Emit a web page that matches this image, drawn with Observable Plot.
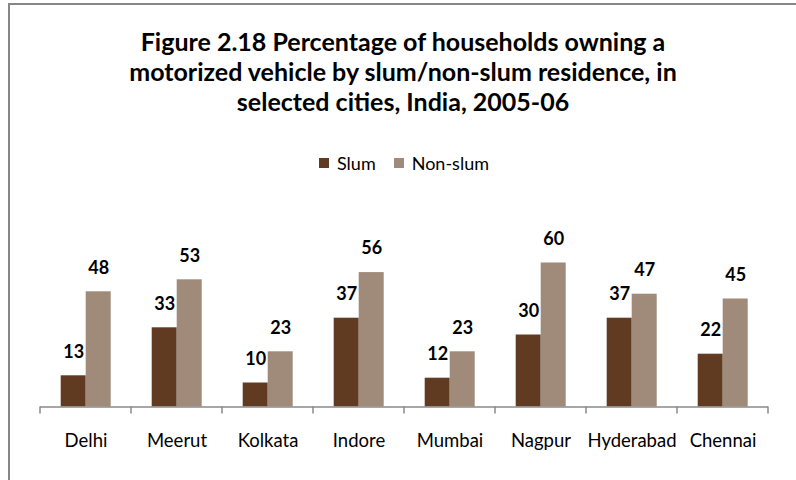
<!DOCTYPE html>
<html><head><meta charset="utf-8">
<script src="https://cdn.jsdelivr.net/npm/d3@7"></script>
<script src="https://cdn.jsdelivr.net/npm/@observablehq/plot@0.6"></script>
<style>
body{margin:0;background:#fff;font-family:Lato,"Noto Sans",sans-serif;color:#000;}
#frame{position:absolute;left:8px;top:3px;width:800px;height:490px;border-left:2px solid #878787;border-top:2px solid #878787;box-sizing:border-box;}
#title{position:absolute;left:0;width:806px;top:26px;text-align:center;font-weight:bold;font-size:25px;line-height:30px;}
#legend{position:absolute;top:152px;left:0;width:808px;display:flex;justify-content:center;align-items:center;font-size:18px;line-height:22px;}
#legend .item{display:flex;align-items:center;margin:0 9px;}
#legend .sw{width:10px;height:10px;margin-right:8px;}
#chart{position:absolute;left:0;top:180px;}
</style>
</head><body>
<div id="frame"></div>
<div id="title">Figure 2.18 Percentage of households owning a<br>motorized vehicle by slum/non-slum residence, in<br>selected cities, India, 2005-06</div>
<div id="legend"></div>
<div id="chart"></div>
<script>
const cities = ["Delhi","Meerut","Kolkata","Indore","Mumbai","Nagpur","Hyderabad","Chennai"];
const series = ["Slum","Non-slum"];
const slum = [13,33,10,37,12,30,37,22];
const nonSlum = [48,53,23,56,23,60,47,45];
const colors = ["#603b21","#a08a79"];

const data = [];
cities.forEach((c,i)=>{
  data.push({city:c, series:"Slum", value:slum[i]});
  data.push({city:c, series:"Non-slum", value:nonSlum[i]});
});

const legend = document.getElementById("legend");
series.forEach((s,i)=>{
  const it = document.createElement("div"); it.className="item";
  const sw = document.createElement("span"); sw.className="sw"; sw.style.background=colors[i];
  const tx = document.createElement("span"); tx.textContent=s;
  it.appendChild(sw); it.appendChild(tx); legend.appendChild(it);
});

const chart = Plot.plot({
  width: 796,
  height: 300,
  marginLeft: 39.3,
  marginRight: 28,
  marginTop: 58.5,
  marginBottom: 73.5,
  style: {fontFamily: "Lato, 'Noto Sans', sans-serif", background: "transparent"},
  fx: {domain: cities, padding: 0, label: null},
  x: {domain: series, paddingInner: 0, paddingOuter: 0.78, axis: null},
  y: {domain: [0, 70], axis: null},
  color: {domain: series, range: colors},
  marks: [
    Plot.barY(data, {fx: "city", x: "series", y: "value", fill: "series"}),
    Plot.ruleY([0], {stroke: "#8a8a8a", strokeWidth: 1.5}),
    Plot.text(data, {fx: "city", x: "series", y: "value", text: d => String(d.value), dy: -24, lineAnchor: "middle", fontSize: 18, fontWeight: "bold", fill: "#000"}),
    Plot.axisFx({anchor: "bottom", tickSize: 0, tickPadding: 26.5, fontSize: 18.5, fill: "#000", label: null})
  ]
});
document.getElementById("chart").appendChild(chart);

// tick marks at category boundaries
const fx = chart.scale("fx");
const y0 = chart.scale("y").apply(0);
const svg = d3.select(chart);
const bounds = cities.map(c => fx.apply(c));
bounds.push(fx.apply(cities[cities.length-1]) + fx.bandwidth);
svg.append("g").attr("stroke","#8a8a8a").attr("stroke-width",1.5)
  .selectAll("line").data(bounds).join("line")
  .attr("x1", d=>d).attr("x2", d=>d).attr("y1", y0).attr("y2", y0+7);
</script>
</body></html>
